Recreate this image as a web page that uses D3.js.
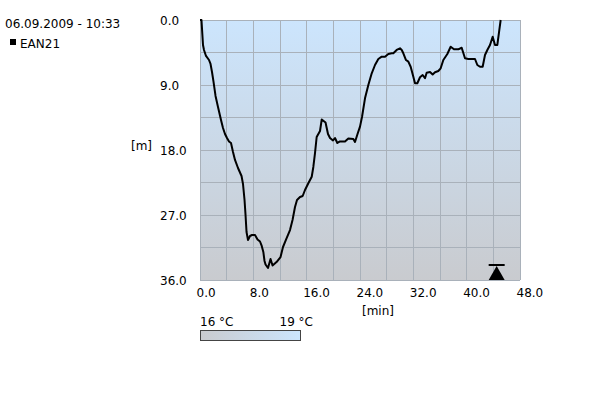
<!DOCTYPE html>
<html><head><meta charset="utf-8">
<script src="https://cdn.jsdelivr.net/npm/d3@7"></script>
<style>body{margin:0;background:#fff}svg{display:block}text{font-family:"DejaVu Sans",sans-serif;font-size:12px;fill:#000}</style>
</head><body><svg id="c" width="600" height="400"></svg>
<script>
const title = "06.09.2009 - 10:33";
const seriesName = "EAN21";
const timeMin = [0,0.22,0.45,0.6,0.9,1.35,1.58,1.8,2.03,2.33,2.7,3.15,3.45,3.75,4.05,4.35,4.65,4.95,5.25,5.7,6.23,6.45,6.68,6.83,6.98,7.2,7.5,7.8,8.25,8.63,9.0,9.26,9.5,9.68,9.83,10.2,10.58,10.88,11.48,12.08,12.45,12.98,13.5,13.88,14.25,14.55,15.0,15.4,15.75,16.25,16.76,17.0,17.25,17.5,18.0,18.26,18.83,19.2,19.5,19.95,20.25,20.6,21.0,21.75,22.25,23.0,23.25,23.63,24.0,24.3,24.75,25.25,25.76,26.25,26.75,27.26,27.75,28.25,28.76,29.0,29.5,30.0,30.26,30.5,30.9,31.25,31.6,32.0,32.25,32.6,33.0,33.4,33.75,34.0,34.5,34.9,35.25,35.75,36.1,36.5,37.1,37.6,38.1,38.75,39.25,39.75,40.25,41.25,41.6,42.0,42.4,42.75,43.1,43.5,43.9,44.25,44.6,44.9,45.1];
const depthM = [0,0,3.46,4.15,4.98,5.54,6.09,7.2,8.58,10.52,12.05,13.85,14.95,15.78,16.34,16.82,17.03,18.28,19.38,20.49,21.6,22.71,24.92,27.0,29.35,30.46,29.91,29.77,29.77,30.39,30.67,31.29,32.12,33.37,33.85,34.34,33.09,33.99,33.51,32.82,31.43,30.25,29.08,27.69,25.89,24.92,24.51,24.37,23.54,22.61,21.7,20.35,18.42,16.2,15.37,13.78,14.19,15.78,16.34,16.68,16.34,17.03,16.82,16.82,16.41,16.48,16.89,15.78,14.77,13.43,10.84,9.0,7.38,6.23,5.4,5.08,5.08,4.71,4.61,4.61,4.15,3.92,4.15,4.61,5.54,5.77,6.47,7.85,8.76,8.76,7.93,7.62,8.07,7.3,7.2,7.55,7.24,7.06,6.69,5.54,4.71,3.7,4.06,4.06,3.84,5.3,5.4,5.4,6.23,6.47,6.47,4.85,4.15,3.46,2.31,3.46,3.46,1.38,0];
const xTicks = [0,8,16,24,32,40,48];
const yTicks = [0,9,18,27,36];
const xLabel = "[min]";
const yLabel = "[m]";
const tempLabels = ["16 °C","19 °C"];
const markerTime = [44.5];

const svg = d3.select("#c");
const x = d3.scaleLinear().domain([0,48]).range([200,520]);
const y = d3.scaleLinear().domain([0,36]).range([20,280]);

const defs = svg.append("defs");
const g1 = defs.append("linearGradient").attr("id","bg").attr("x1",0).attr("y1",0).attr("x2",0).attr("y2",1);
g1.append("stop").attr("offset","0%").attr("stop-color","#cce5fd");
g1.append("stop").attr("offset","100%").attr("stop-color","#c9cbcf");
const g2 = defs.append("linearGradient").attr("id","lg").attr("x1",0).attr("y1",0).attr("x2",1).attr("y2",0);
g2.append("stop").attr("offset","0%").attr("stop-color","#c9cbcf");
g2.append("stop").attr("offset","100%").attr("stop-color","#cce5fd");

svg.append("rect").attr("x",x(0)).attr("y",y(0)).attr("width",x(48)-x(0)).attr("height",y(36)-y(0)).attr("fill","url(#bg)");

// grid
const gx = d3.range(0,48.01,4), gy = d3.range(0,36.01,4.5);
svg.append("g").selectAll("line").data(gx).join("line")
  .attr("x1",d=>x(d)).attr("x2",d=>x(d)).attr("y1",y(0)).attr("y2",y(36))
  .attr("stroke","#a9b1ba").attr("stroke-width",1).attr("shape-rendering","crispEdges");
svg.append("g").selectAll("line").data(gy).join("line")
  .attr("y1",d=>y(d)).attr("y2",d=>y(d)).attr("x1",x(0)).attr("x2",x(48))
  .attr("stroke","#a9b1ba").attr("stroke-width",1).attr("shape-rendering","crispEdges");

// axes labels via d3 axes
const xa = svg.append("g").attr("transform",`translate(0,${y(36)})`)
  .call(d3.axisBottom(x).tickValues(xTicks).tickFormat(d3.format(".1f")).tickSize(0).tickPadding(8));
xa.select(".domain").remove();
xa.selectAll("text").attr("text-anchor","start").attr("dx",-4).attr("font-size",12).attr("font-family","DejaVu Sans").attr("fill","#000");
const ya = svg.append("g").attr("transform",`translate(160,0)`)
  .call(d3.axisLeft(y).tickValues(yTicks).tickFormat(d3.format(".1f")).tickSize(0).tickPadding(0));
ya.select(".domain").remove();
ya.selectAll("text").attr("text-anchor","start").attr("x",0).attr("dy","0.4em").attr("font-size",12).attr("font-family","DejaVu Sans").attr("fill","#000");

// line
const pts = timeMin.map((t,i)=>[t,depthM[i]]);
svg.append("path").datum(pts).attr("fill","none").attr("stroke","#000").attr("stroke-width",2)
  .attr("stroke-linejoin","round")
  .attr("d",d3.line().x(d=>x(d[0])).y(d=>y(d[1])));

// marker
markerTime.forEach(t=>{
  const cx = x(t);
  svg.append("line").attr("x1",cx-8).attr("x2",cx+8).attr("y1",265).attr("y2",265).attr("stroke","#000").attr("stroke-width",2);
  svg.append("path").attr("d",`M${cx},266L${cx+8},${y(36)}L${cx-8},${y(36)}Z`).attr("fill","#000");
});

// texts
svg.append("text").attr("x",5).attr("y",27.5).text(title);
svg.append("rect").attr("x",10).attr("y",39).attr("width",6).attr("height",6).attr("fill","#000");
svg.append("text").attr("x",20).attr("y",47.5).text(seriesName);
svg.append("text").attr("x",131).attr("y",149.5).text(yLabel);
svg.append("text").attr("x",362).attr("y",314.5).text(xLabel);

// temperature legend
svg.append("rect").attr("x",200.5).attr("y",330.5).attr("width",100).attr("height",10).attr("fill","url(#lg)").attr("stroke","#444");
svg.append("text").attr("x",200).attr("y",325.5).text(tempLabels[0]);
svg.append("text").attr("x",313).attr("y",325.5).attr("text-anchor","end").text(tempLabels[1]);
</script></body></html>
